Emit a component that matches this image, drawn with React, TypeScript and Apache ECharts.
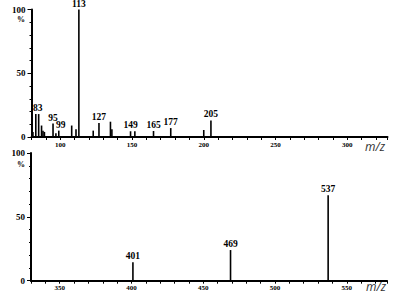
import React, { useEffect, useRef } from 'react';
import * as echarts from 'echarts';

// Top spectrum (m/z 80 - 328)
const topMz = [81, 83, 85, 87, 88, 89, 95, 97, 99, 108, 111, 113, 123, 127, 135, 136, 149, 152, 165, 177, 200, 205];
const topIntensity = [4, 18, 18, 9, 5, 4, 10.5, 3, 5, 9, 6, 100, 5, 11, 12, 6, 4.5, 4.5, 4.7, 7, 5.5, 13];
const topLabeled = [83, 95, 99, 113, 127, 149, 165, 177, 205];
const topXTickLabels = [100, 150, 200, 250, 300];

// Bottom spectrum (m/z 330 - 578)
const bottomMz = [401, 469, 537];
const bottomIntensity = [14.4, 24, 67];
const bottomLabeled = [401, 469, 537];
const bottomXTickLabels = [350, 400, 450, 500, 550];

const yTickLabels = [0, 50, 100];

const SERIF = '"Liberation Serif", "Times New Roman", serif';

function xAxisCfg(gridIndex: number, min: number, max: number, labels: number[]) {
  return {
    type: 'value',
    gridIndex,
    min,
    max,
    interval: 10,
    axisLine: { show: true, onZero: false, lineStyle: { color: '#000', width: 2 } },
    axisTick: { show: true, length: 3, lineStyle: { color: '#000', width: 1 } },
    axisLabel: {
      formatter: (v: number) => (labels.includes(v) ? String(v) : ''),
      fontSize: 7,
      fontWeight: 'bold',
      fontFamily: SERIF,
      color: '#000',
      margin: 4,
    },
    splitLine: { show: false },
  };
}

function yAxisCfg(gridIndex: number) {
  return {
    type: 'value',
    gridIndex,
    min: 0,
    max: 100,
    interval: 50,
    axisLine: { show: true, lineStyle: { color: '#000', width: 2 } },
    axisTick: { show: true, length: 4, lineStyle: { color: '#000', width: 1 } },
    minorTick: { show: true, splitNumber: 5, length: 2, lineStyle: { color: '#000', width: 1 } },
    axisLabel: {
      formatter: (v: number) => (yTickLabels.includes(v) ? String(v) : ''),
      fontSize: 9,
      fontWeight: 'bold',
      fontFamily: SERIF,
      color: '#000',
      margin: 6,
    },
    splitLine: { show: false },
    minorSplitLine: { show: false },
  };
}

const labelOffsets: Record<number, number[]> = { 83: [2, 0], 99: [2, 0] };

function seriesData(mz: number[], inten: number[], labeled: number[]) {
  return mz.map((m, i) => ({
    value: [m, inten[i]],
    label: { show: labeled.includes(m), offset: labelOffsets[m] || [0, 0] },
  }));
}

function barSeries(idx: number, data: any[]) {
  return {
    type: 'bar',
    xAxisIndex: idx,
    yAxisIndex: idx,
    barWidth: 1.6,
    itemStyle: { color: '#000' },
    label: {
      show: false,
      position: 'top',
      distance: 1,
      formatter: (p: any) => String(p.value[0]),
      fontSize: 9.5,
      fontWeight: 'bold',
      fontFamily: SERIF,
      color: '#000',
    },
    data,
  };
}

export default function App() {
  const ref = useRef<HTMLDivElement>(null);
  useEffect(() => {
    if (!ref.current) return;
    const chart = echarts.init(ref.current, undefined, { renderer: 'svg' });
    chart.setOption({
      animation: false,
      backgroundColor: '#fff',
      grid: [
        { left: 31.5, top: 9.5, width: 356, height: 127.5 },
        { left: 31, top: 153, width: 356, height: 127.7 },
      ],
      xAxis: [xAxisCfg(0, 80, 328, topXTickLabels), xAxisCfg(1, 330, 578, bottomXTickLabels)],
      yAxis: [yAxisCfg(0), yAxisCfg(1)],
      series: [
        barSeries(0, seriesData(topMz, topIntensity, topLabeled)),
        barSeries(1, seriesData(bottomMz, bottomIntensity, bottomLabeled)),
      ],
      graphic: [
        { type: 'text', left: 17, top: 15, style: { text: '%', font: `bold 8px ${SERIF}`, fill: '#000' } },
        { type: 'text', left: 17, top: 160, style: { text: '%', font: `bold 8px ${SERIF}`, fill: '#000' } },
        { type: 'text', left: 365, top: 140, style: { text: 'm/z', font: 'italic 12px "Open Sans", sans-serif', fill: '#333' } },
        { type: 'text', left: 366, top: 280, style: { text: 'm/z', font: 'italic 12px "Open Sans", sans-serif', fill: '#333' } },
      ],
    });
    return () => chart.dispose();
  }, []);
  return <div ref={ref} style={{ position: 'fixed', left: 0, top: 0, width: 393, height: 295, background: '#fff' }} />;
}
